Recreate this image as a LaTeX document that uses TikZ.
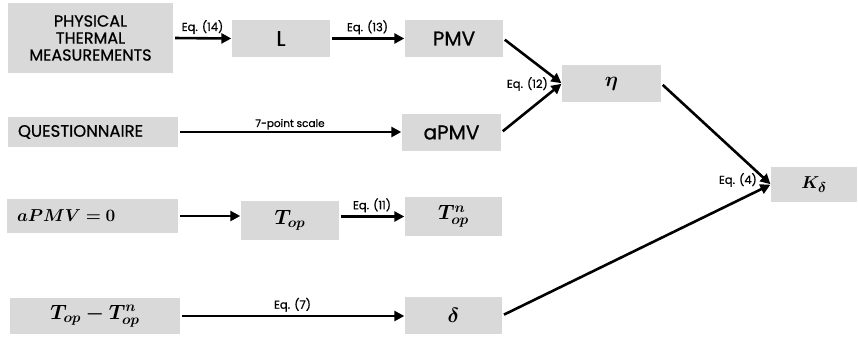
\documentclass[tikz,border=0pt]{standalone}
\usepackage[no-math]{fontspec}
\usepackage{bm}
\setmainfont{Poppins}
\newfontfamily\medfont{Poppins}[UprightFeatures={FakeBold=0.8}]
\usetikzlibrary{arrows.meta}
\definecolor{boxgray}{HTML}{D9D9D9}
\tikzset{
  box/.style={fill=boxgray, inner sep=0pt, align=center, font=\fontsize{16}{18}\selectfont\medfont},
  mbox/.style={fill=boxgray, inner sep=0pt, align=center, font=\fontsize{20}{22}\selectfont},
  arr/.style={line width=2.6pt, -{Triangle[length=10pt,width=10pt]}, shorten <=2pt, shorten >=0.5pt},
  lbl/.style={inner sep=1pt, font=\fontsize{11.5}{13}\selectfont\medfont},
}
\begin{document}
\begin{tikzpicture}[x=1pt,y=-1pt]
\useasboundingbox (0,0) rectangle (858,340);
% boxes
\node[box, minimum width=165pt, minimum height=70pt] (phys) at (90.5,38) {PHYSICAL\\[-1pt]THERMAL\\[-1pt]MEASUREMENTS};
\node[box, minimum width=98pt, minimum height=37pt, font=\fontsize{21}{23}\selectfont\medfont] (L) at (281,38.5) {L};
\node[box, minimum width=98pt, minimum height=37pt, font=\fontsize{20}{22}\selectfont\medfont] (pmv) at (454,38.5) {PMV};
\node[box, minimum width=170pt, minimum height=30pt, text width=150pt, align=left, font=\fontsize{16.5}{18}\selectfont\medfont] (quest) at (93,132) {QUESTIONNAIRE};
\node[box, minimum width=99pt, minimum height=37pt, font=\fontsize{20}{22}\selectfont\medfont] (apmv) at (451.5,132.5) {aPMV};
\node[mbox, minimum width=99pt, minimum height=37pt, font=\fontsize{22}{24}\selectfont] (eta) at (611.5,83.5) {$\bm{\eta}$};
\node[mbox, minimum width=86pt, minimum height=35pt, font=\fontsize{19}{21}\selectfont] (K) at (814,184.5) {$\bm{K_\delta}$};
\node[mbox, minimum width=171pt, minimum height=34pt, text width=151pt, align=left, font=\fontsize{18}{20}\selectfont] (apmvz) at (92.5,216) {$\bm{aPMV=0}$};
\node[mbox, minimum width=98pt, minimum height=39pt] (top) at (290,220.5) {$\bm{T_{op}}$};
\node[mbox, minimum width=97pt, minimum height=39pt] (tn) at (453.5,216.5) {$\bm{T_{op}^{n}}$};
\node[mbox, minimum width=170pt, minimum height=36pt] (diff) at (95,316) {$\bm{T_{op}-T_{op}^{n}}$};
\node[mbox, minimum width=97pt, minimum height=37pt, font=\fontsize{21}{23}\selectfont] (delta) at (453.5,315.5) {$\bm{\delta}$};
% connectors
\draw[arr] (phys.east) -- (L.west) node[lbl, midway, above=2pt] {Eq. (14)};
\draw[arr] (L.east) -- (pmv.west) node[lbl, midway, above=2pt] {Eq. (13)};
\draw[arr] (quest.east) -- (quest.east -| apmv.west) node[lbl, midway, above=0pt, font=\fontsize{10.5}{12}\selectfont\medfont] {7-point scale};
\draw[arr] (pmv.east) -- (eta.west);
\draw[arr] (apmv.east) -- (eta.west);
\node[lbl, anchor=east] (eq12) at (549,84) {Eq. (12)};
\draw[arr] (eta.east) -- (K.west);
\draw[arr] (delta.east) -- (K.west);
\node[lbl, anchor=east] (eq4) at (758,180) {Eq. (4)};
\draw[arr] (apmvz.east) -- (apmvz.east -| top.west);
\draw[arr] (top.east |- tn.west) -- (tn.west) node[lbl, midway, above=2pt] {Eq. (11)};
\draw[arr] (diff.east) -- (diff.east -| delta.west) node[lbl, midway, above=2pt] {Eq. (7)};
\end{tikzpicture}
\end{document}
